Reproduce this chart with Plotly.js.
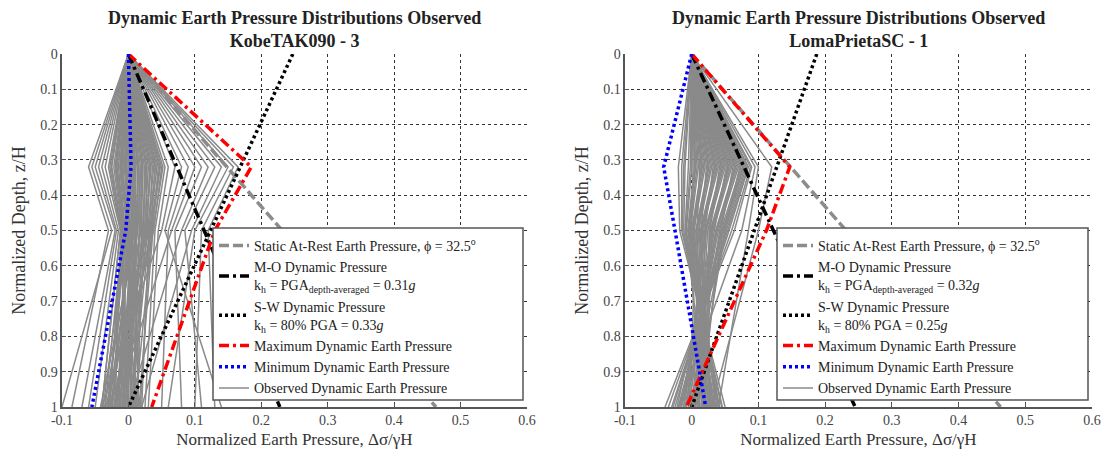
<!DOCTYPE html>
<html><head><meta charset="utf-8">
<script src="https://cdn.plot.ly/plotly-3.0.1.min.js"></script>
<style>html,body{margin:0;padding:0;background:#fff}#chart{width:1105px;height:457px}</style>
</head><body><div id="chart"></div>
<script>
// ---------- data ----------
const depthNodes = [0, 0.32, 0.5, 1];
const depthEnds = [0, 1];
const xTickVals = [-0.1, 0, 0.1, 0.2, 0.3, 0.4, 0.5, 0.6];
const xTickText = ['-0.1', '0', '0.1', '0.2', '0.3', '0.4', '0.5', '0.6'];
const yTickVals = [0, 0.1, 0.2, 0.3, 0.4, 0.5, 0.6, 0.7, 0.8, 0.9, 1];
const yTickText = ['0', '0.1', '0.2', '0.3', '0.4', '0.5', '0.6', '0.7', '0.8', '0.9', '1'];

const chartTitles = ['Dynamic Earth Pressure Distributions Observed<br>KobeTAK090 - 3',
                     'Dynamic Earth Pressure Distributions Observed<br>LomaPrietaSC - 1'];
const xTitle = 'Normalized Earth Pressure, Δσ/γH';
const yTitle = 'Normalized Depth, z/H';

// Kobe TAK090 - 3 (values at depthNodes)
const kobeObserved = [
  [0, -0.060, -0.030, -0.085], [0, -0.055, -0.025, -0.100], [0, -0.050, -0.020, -0.070],
  [0, -0.045, -0.018, -0.060], [0, -0.040, -0.015, -0.050], [0, -0.035, -0.012, -0.040],
  [0, 0.165, 0.120, 0.130], [0, 0.158, 0.110, 0.100], [0, 0.150, 0.100, 0.060],
  [0, 0.140, 0.095, 0.020], [0, 0.130, 0.085, 0.110], [0, 0.120, 0.080, 0.000],
  [0, 0.110, 0.070, 0.080], [0, 0.100, 0.065, -0.020], [0, 0.090, 0.060, 0.050],
  [0, 0.080, 0.055, 0.140], [0, 0.070, 0.050, -0.040], [0, 0.060, 0.045, 0.030],
  [0, -0.030, -0.012, -0.040], [0, -0.025, -0.010, -0.005], [0, -0.020, -0.008, -0.035],
  [0, -0.018, -0.004, 0.010], [0, -0.015, -0.006, -0.025], [0, -0.012, -0.002, -0.012],
  [0, -0.010, 0.002, 0.005], [0, -0.008, -0.003, -0.038], [0, -0.005, 0.004, 0.012],
  [0, -0.003, 0.001, -0.018], [0, 0.000, 0.006, -0.008], [0, 0.003, 0.008, -0.030],
  [0, 0.005, 0.010, 0.015], [0, 0.008, 0.012, -0.002], [0, 0.010, 0.013, -0.042],
  [0, 0.013, 0.016, 0.008], [0, 0.016, 0.018, -0.022], [0, 0.020, 0.020, 0.014],
  [0, 0.024, 0.023, -0.010], [0, 0.028, 0.026, -0.032], [0, 0.032, 0.028, 0.002],
  [0, 0.036, 0.031, 0.020], [0, 0.040, 0.034, -0.015], [0, 0.045, 0.036, 0.010],
  [0, 0.050, 0.038, -0.026], [0, 0.055, 0.040, 0.025],
  [0, -0.028, -0.011, -0.020], [0, -0.022, -0.009, 0.000], [0, -0.017, -0.007, -0.030],
  [0, -0.013, -0.005, -0.006], [0, -0.009, -0.001, -0.016], [0, -0.006, 0.000, 0.004],
  [0, -0.002, 0.003, -0.024], [0, 0.001, 0.005, -0.012], [0, 0.004, 0.007, 0.000],
  [0, 0.007, 0.009, -0.036], [0, 0.011, 0.011, -0.004], [0, 0.014, 0.014, -0.020],
  [0, 0.018, 0.017, 0.006], [0, 0.022, 0.019, -0.028], [0, 0.026, 0.021, -0.008],
  [0, 0.030, 0.024, 0.012], [0, 0.034, 0.027, -0.014], [0, 0.038, 0.029, -0.034],
  [0, 0.043, 0.032, 0.004], [0, 0.048, 0.035, -0.020], [0, 0.052, 0.037, 0.016],
  [0, -0.026, -0.010, -0.028], [0, -0.019, -0.006, -0.014], [0, -0.011, -0.002, -0.032],
  [0, -0.004, 0.002, -0.004], [0, 0.002, 0.006, -0.026], [0, 0.009, 0.010, -0.010],
  [0, 0.015, 0.013, 0.002], [0, 0.021, 0.018, -0.018], [0, 0.027, 0.022, 0.008],
  [0, 0.033, 0.026, -0.022], [0, 0.041, 0.030, -0.006], [0, 0.047, 0.033, 0.018]
];
const kobeStatic = [0, 0.463];
const kobeMO = [0, 0.228];
const kobeSW = [0.2475, 0];
const kobeMax = [0, 0.185, 0.130, 0.035];
const kobeMin = [0, 0.004, -0.004, -0.055];

// Loma Prieta SC - 1 (values at depthNodes)
const lomaObserved = [
  [0, -0.020, -0.018, 0.050], [0, -0.015, -0.015, 0.045], [0, -0.010, -0.012, 0.040],
  [0, -0.005, -0.010, 0.042], [0, 0.000, -0.008, 0.035], [0, 0.005, -0.005, 0.038],
  [0, 0.010, -0.002, 0.030], [0, 0.015, 0.000, 0.032], [0, 0.020, 0.003, 0.025],
  [0, 0.025, 0.006, 0.028], [0, 0.030, 0.010, 0.020], [0, 0.035, 0.013, 0.022],
  [0, 0.040, 0.016, 0.015], [0, 0.045, 0.020, 0.012], [0, 0.050, 0.024, 0.008],
  [0, 0.055, 0.028, 0.005], [0, 0.060, 0.032, 0.000], [0, 0.065, 0.036, -0.005],
  [0, 0.070, 0.040, -0.010], [0, 0.074, 0.044, -0.015], [0, 0.078, 0.048, -0.020],
  [0, 0.082, 0.052, -0.025], [0, 0.085, 0.056, -0.030], [0, 0.088, 0.060, -0.035],
  [0, 0.090, 0.064, -0.040], [0, 0.095, 0.075, -0.020], [0, 0.120, 0.100, 0.030],
  [0, 0.100, 0.085, 0.040], [0, 0.002, 0.000, 0.018], [0, 0.012, 0.008, 0.010],
  [0, 0.022, 0.014, 0.002], [0, 0.032, 0.020, -0.008], [0, 0.042, 0.026, 0.026],
  [0, 0.052, 0.034, -0.012], [0, 0.062, 0.044, 0.014], [0, 0.072, 0.050, -0.002],
  [0, 0.004, -0.006, 0.033], [0, 0.008, -0.003, 0.027], [0, 0.018, 0.002, 0.036],
  [0, 0.028, 0.008, 0.016], [0, 0.038, 0.015, 0.024], [0, 0.048, 0.022, 0.004],
  [0, 0.058, 0.030, 0.010], [0, 0.068, 0.038, -0.008], [0, 0.076, 0.046, -0.018],
  [0, 0.080, 0.050, 0.006], [0, 0.084, 0.054, -0.028], [0, 0.014, 0.004, 0.020],
  [0, 0.024, 0.011, 0.030], [0, 0.034, 0.018, -0.002], [0, 0.044, 0.027, 0.018],
  [0, 0.054, 0.031, -0.016], [0, 0.064, 0.042, 0.002], [0, -0.012, -0.014, 0.046],
  [0, -0.002, -0.009, 0.022], [0, 0.006, -0.004, 0.012], [0, 0.016, 0.001, 0.040],
  [0, 0.026, 0.007, -0.004], [0, 0.036, 0.014, 0.028], [0, 0.046, 0.021, -0.012],
  [0, 0.056, 0.029, 0.020], [0, 0.066, 0.037, -0.022], [0, 0.077, 0.047, 0.010]
];
const lomaStatic = [0, 0.463];
const lomaMO = [0, 0.245];
const lomaSW = [0.1875, 0];
const lomaMax = [0, 0.147, 0.112, -0.008];
const lomaMin = [0, -0.042, -0.025, 0.021];

const legendLabelsKobe = [
  'Static At-Rest Earth Pressure, ϕ = 32.5<sup>o</sup>',
  'M-O Dynamic Pressure<br>k<sub>h</sub> = PGA<sub>depth-averaged</sub> = 0.31<i>g</i>',
  'S-W Dynamic Pressure<br>k<sub>h</sub> = 80% PGA = 0.33<i>g</i>',
  'Maximum Dynamic Earth Pressure',
  'Minimum Dynamic Earth Pressure',
  'Observed Dynamic Earth Pressure'
];
const legendLabelsLoma = [
  'Static At-Rest Earth Pressure, ϕ = 32.5<sup>o</sup>',
  'M-O Dynamic Pressure<br>k<sub>h</sub> = PGA<sub>depth-averaged</sub> = 0.32<i>g</i>',
  'S-W Dynamic Pressure<br>k<sub>h</sub> = 80% PGA = 0.25<i>g</i>',
  'Maximum Dynamic Earth Pressure',
  'Minimum Dynamic Earth Pressure',
  'Observed Dynamic Earth Pressure'
];

// ---------- build ----------
const SERIF = 'Liberation Serif, Times New Roman, serif';
function buildTraces(obs, stat, mo, sw, mx, mn, labels, xa, ya, leg) {
  const t = [];
  obs.forEach((row, i) => {
    t.push({x: row, y: depthNodes, xaxis: xa, yaxis: ya, type: 'scatter', mode: 'lines',
      line: {color: '#8a8a8a', width: 1.5}, name: labels[5], legend: leg,
      legendgroup: leg + 'obs', showlegend: i === 0, legendrank: 6, hoverinfo: 'skip'});
  });
  t.push({x: stat, y: depthEnds, xaxis: xa, yaxis: ya, mode: 'lines', name: labels[0], legend: leg, legendrank: 1,
    line: {color: '#8c8c8c', width: 3.5, dash: '10px,4px'}});
  t.push({x: mo, y: depthEnds, xaxis: xa, yaxis: ya, mode: 'lines', name: labels[1], legend: leg, legendrank: 2,
    line: {color: '#000000', width: 3.5, dash: '10px,4px,3px,4px'}});
  t.push({x: sw, y: depthEnds, xaxis: xa, yaxis: ya, mode: 'lines', name: labels[2], legend: leg, legendrank: 3,
    line: {color: '#000000', width: 3.5, dash: '3px,3px'}});
  t.push({x: mx, y: depthNodes, xaxis: xa, yaxis: ya, mode: 'lines', name: labels[3], legend: leg, legendrank: 4,
    line: {color: '#ff0000', width: 3.5, dash: '10px,4px,3px,4px'}});
  t.push({x: mn, y: depthNodes, xaxis: xa, yaxis: ya, mode: 'lines', name: labels[4], legend: leg, legendrank: 5,
    line: {color: '#0000ff', width: 3.5, dash: '3px,3px'}});
  return t;
}

const data = [].concat(
  buildTraces(kobeObserved, kobeStatic, kobeMO, kobeSW, kobeMax, kobeMin, legendLabelsKobe, 'x', 'y', 'legend'),
  buildTraces(lomaObserved, lomaStatic, lomaMO, lomaSW, lomaMax, lomaMin, legendLabelsLoma, 'x2', 'y2', 'legend2')
);

function xAxis(domain, anchor) {
  return {domain: domain, anchor: anchor, range: [-0.1, 0.6], tickvals: xTickVals, ticktext: xTickText,
    showgrid: true, gridcolor: '#333', griddash: '3px,3px', gridwidth: 1, zeroline: false,
    showline: true, linecolor: '#555', linewidth: 1.5, ticks: 'inside', ticklen: 4, tickcolor: '#555',
    tickfont: {family: SERIF, size: 14, color: '#444'}, automargin: false, fixedrange: true,
    title: {text: xTitle, font: {family: SERIF, size: 17, color: '#333'}, standoff: 6}};
}
function yAxis(domain, anchor) {
  return {domain: domain, anchor: anchor, range: [1, 0], tickvals: yTickVals, ticktext: yTickText,
    showgrid: true, gridcolor: '#333', griddash: '3px,3px', gridwidth: 1, zeroline: false,
    showline: true, linecolor: '#555', linewidth: 1.5, ticks: 'inside', ticklen: 4, tickcolor: '#555',
    tickfont: {family: SERIF, size: 14, color: '#444'}, automargin: false, fixedrange: true,
    title: {text: yTitle, font: {family: SERIF, size: 18, color: '#333'}, standoff: 10}};
}
// legend frame sizes in pixels (box drawn as a shape so it matches the reference extent)
const W = 1105, H = 457;
const legendBoxes = [[213, 523, 228, 400], [777, 1088, 228, 400]];
const legendStyle = (b) => ({x: (b[0] + 1) / W, xanchor: 'left', y: 1 - (b[2] + 2) / H, yanchor: 'top',
  bgcolor: 'rgba(0,0,0,0)', borderwidth: 0, font: {family: SERIF, size: 14, color: '#222'},
  traceorder: 'normal', itemwidth: 30, tracegroupgap: 0});

const yDom = [0.1094, 0.8818];
const layout = {
  width: W, height: H, margin: {l: 0, r: 0, t: 0, b: 0},
  paper_bgcolor: '#ffffff', plot_bgcolor: '#ffffff', showlegend: true,
  xaxis: xAxis([0.0561, 0.4769], 'y'), yaxis: yAxis(yDom, 'x'),
  xaxis2: xAxis([0.5656, 0.9882], 'y2'), yaxis2: yAxis(yDom, 'x2'),
  legend: legendStyle(legendBoxes[0]),
  legend2: legendStyle(legendBoxes[1]),
  shapes: legendBoxes.map(b => ({type: 'rect', xref: 'paper', yref: 'paper', layer: 'above',
    x0: b[0] / W, x1: b[1] / W, y0: 1 - b[3] / H, y1: 1 - b[2] / H,
    fillcolor: '#ffffff', line: {color: '#555', width: 1.5}})),
  annotations: [
    {text: '<b>' + chartTitles[0] + '</b>', xref: 'paper', yref: 'paper', x: 0.2665, y: 1 - 6 / H,
     xanchor: 'center', yanchor: 'top', showarrow: false, font: {family: SERIF, size: 18, color: '#222'}},
    {text: '<b>' + chartTitles[1] + '</b>', xref: 'paper', yref: 'paper', x: 0.7769, y: 1 - 6 / H,
     xanchor: 'center', yanchor: 'top', showarrow: false, font: {family: SERIF, size: 18, color: '#222'}}
  ]
};
Plotly.newPlot('chart', data, layout, {displayModeBar: false, staticPlot: true});
</script></body></html>
